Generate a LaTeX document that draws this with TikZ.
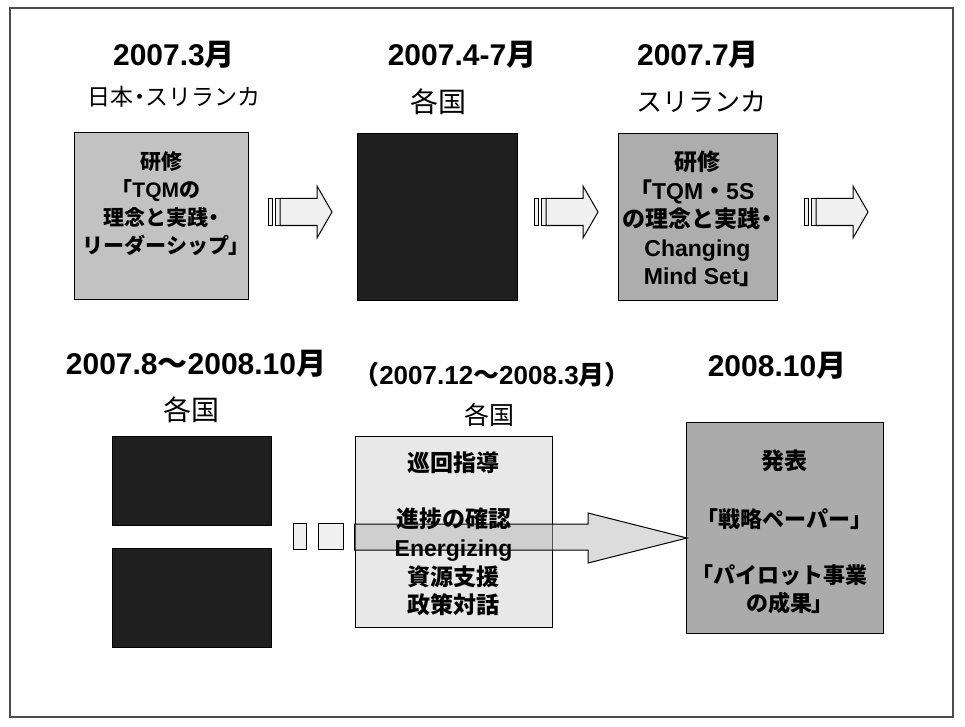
\documentclass[tikz,border=0pt]{standalone}
\usepackage{fontspec}
\setmainfont{Liberation Sans}
\newfontfamily\jpf{Noto Sans CJK JP}
\newfontfamily\jpp{Noto Sans CJK JP}[RawFeature=+palt]
\newcommand{\J}[1]{{\jpf #1}}
\newcommand{\B}[1]{{\jpp #1}}
\begin{document}
\begin{tikzpicture}[x=1pt,y=-1pt,
  ttl/.style={font=\bfseries\fontsize{30}{36}\selectfont, inner sep=0pt},
  subttl/.style={font=\fontsize{23}{26}\selectfont, inner sep=0pt},
  place/.style={font=\fontsize{28}{32}\selectfont, inner sep=0pt},
  boxtxt/.style={font=\bfseries\fontsize{21}{28}\selectfont, align=center, inner sep=0pt},
  midtxt/.style={font=\bfseries\fontsize{23}{28.7}\selectfont, align=center, inner sep=0pt},
  panel/.style={draw=black, line width=1pt, inner sep=0pt, minimum width=#1},
  darkpanel/.style={draw=black, line width=1pt, fill=black!88, inner sep=0pt},
  arrowline/.style={draw=black, line width=1pt, fill=black!6},
  pics/striparrow/.style={code={
    \draw[arrowline] (0,-13.5) rectangle (4,13.5);
    \draw[arrowline] (7,-13.5) rectangle (12,13.5);
    \draw[arrowline] (12,-13.5) -- (49,-13.5) -- (49,-26) -- (64,0) -- (49,26) -- (49,13.5) -- (12,13.5) -- cycle;
  }}
]
\useasboundingbox (0,0) rectangle (965,727);
\fill[white] (0,0) rectangle (965,727);
% frame
\draw[black!70, line width=1.5pt] (10,8) rectangle (953,717);

% ---- top row titles
\node[ttl] (t1) at (174,55) {2007.3\J{月}};
\node[ttl] (t2) at (462,55) {2007.4-7\J{月}};
\node[ttl] (t3) at (698,55) {2007.7\J{月}};
\node[subttl] (s1) at (174,97) {\J{日本}\B{・}\J{スリランカ}};
\node[place] (s2) at (438,102) {\J{各国}};
\node[font=\fontsize{26}{30}\selectfont, inner sep=0pt] (s3) at (701,102) {\J{スリランカ}};

% ---- top row boxes
\node[panel=174pt, fill=black!24, minimum height=166pt] (b1) at (161,216) {};
\node[boxtxt] (b1t) at (161,204) {\J{研修}\\\B{「}TQM\J{の}\\\J{理念と実践}\B{・}\\\J{リーダーシップ}\B{」}};
\node[darkpanel, minimum width=160pt, minimum height=166pt] (b2) at (437,217) {};
\node[panel=159pt, fill=black!32, minimum height=166pt] (b3) at (697.5,217) {};
\node[boxtxt, font=\bfseries\fontsize{23}{28.5}\selectfont] (b3t) at (697.5,219) {\J{研修}\\\B{「}TQM\J{・}5S\\\J{の理念と実践}\B{・}\\Changing\\Mind Set\B{」}};

% striped arrows top row
\pic at (268,212) {striparrow};
\pic at (534,212) {striparrow};
\pic at (804,212) {striparrow};

% ---- bottom row titles
\node[ttl] (t4) at (196,364) {2007.8\J{～}2008.10\J{月}};
\node[ttl, font=\bfseries\fontsize{26}{30}\selectfont] (t5) at (492,375) {\J{（}2007.12\J{～}2008.3\J{月）}};
\node[ttl] (t6) at (777,366) {2008.10\J{月}};
\node[place] (s4) at (191,410) {\J{各国}};
\node[place, font=\fontsize{25}{30}\selectfont] (s5) at (489,415) {\J{各国}};

% ---- bottom row boxes
\node[darkpanel, minimum width=159pt, minimum height=89pt] (d1) at (191.5,480.5) {};
\node[darkpanel, minimum width=159pt, minimum height=99pt] (d2) at (191.5,597.5) {};
\node[panel=197pt, fill=black!9, minimum height=191pt] (mb) at (453.5,531.5) {};
\node[panel=197pt, fill=black!33, minimum height=211pt] (rb) at (784.5,527.5) {};

% big striped arrow
\draw[arrowline] (293,523) rectangle (306,549);
\draw[arrowline] (318,523) rectangle (343,549);
\coordinate (tip) at (687,538);
\draw[arrowline, fill=black!30, fill opacity=0.45] (mb.west |- 0,524) -- (588,524) -- (588,513) -- (tip) -- (588,563) -- (588,550) -- (mb.west |- 0,550) -- cycle;

% middle box text
\node[midtxt] (m1) at (453.5,463) {\J{巡回指導}};
\node[midtxt] (m2) at (453.5,562) {\J{進捗の確認}\\Energizing\\\J{資源支援}\\\J{政策対話}};

% right box text
\node[boxtxt, font=\bfseries\fontsize{23}{28}\selectfont] (r1) at (784.5,461) {\J{発表}};
\node[boxtxt, font=\bfseries\fontsize{22}{28}\selectfont] (r2) at (784.5,519) {\B{「}\J{戦略ペーパー}\B{」}};
\node[boxtxt, font=\bfseries\fontsize{22}{28}\selectfont] (r3) at (784.5,589) {\B{「}\J{パイロット事業}\\\J{の成果}\B{」}};
\end{tikzpicture}
\end{document}
